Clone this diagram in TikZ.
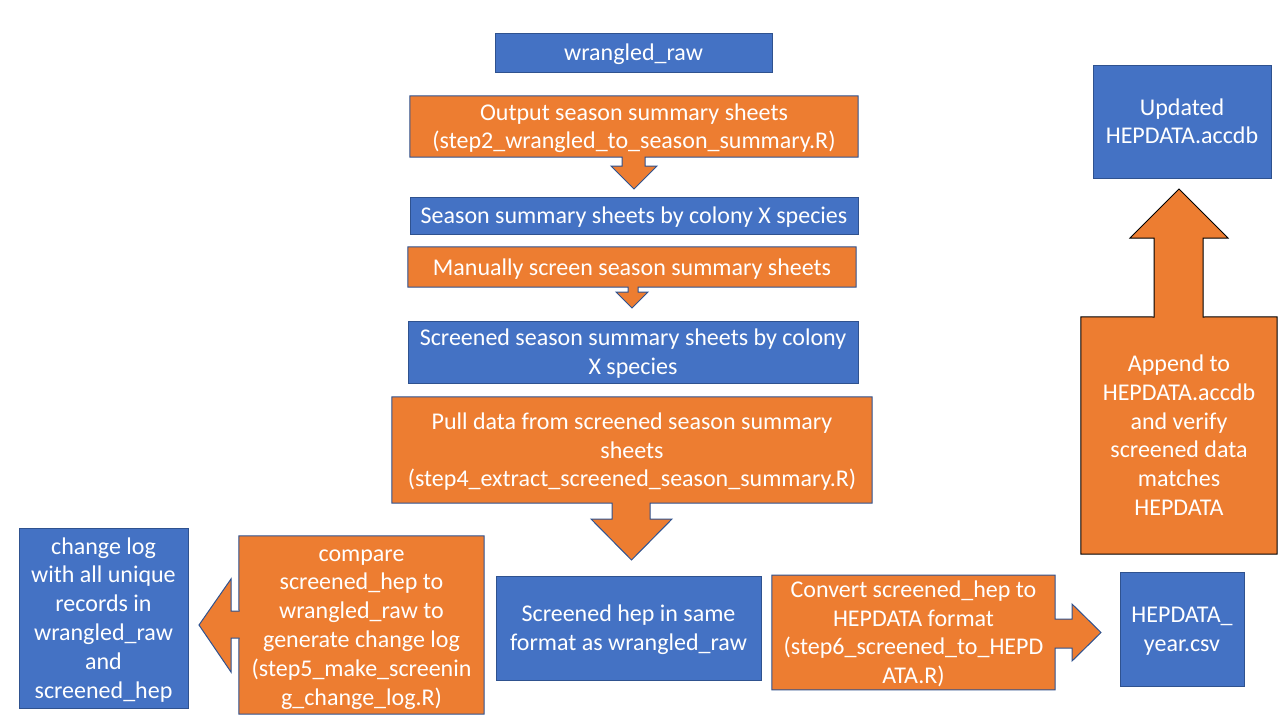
\documentclass[tikz,border=0pt]{standalone}
\usepackage{fontspec}
\setmainfont{Carlito}
\pgfdeclarelayer{background}
\pgfsetlayers{background,main}
\definecolor{pblue}{HTML}{4472C4}
\definecolor{porange}{HTML}{ED7D31}
\definecolor{pedge}{HTML}{2F528F}
\begin{document}
\begin{tikzpicture}[x=1pt,y=-1pt,
  txt/.style={text=white,align=center,inner sep=0pt,font=\fontsize{24}{28.8}\selectfont,text depth=6pt},
  l1/.style={text height=22pt},
  l2/.style={text height=50.8pt},
  l3/.style={text height=79.6pt},
  l4/.style={text height=108.4pt},
  l6/.style={text height=166pt},
  bluebox/.style={txt,fill=pblue,draw=pedge,line width=1pt},
  orangetxt/.style={txt},
  callout/.style={fill=porange,draw=pedge,line width=1pt,line join=miter},
  callblack/.style={fill=porange,draw=black,line width=1pt,line join=miter}]
\useasboundingbox (0,0) rectangle (1280,720);

% blue boxes
\node[bluebox,l1,minimum width=277pt,minimum height=39pt] (wr) at (633.5,52.5) {wrangled\_raw};
\node[bluebox,l1,minimum width=448pt,minimum height=37pt] (ss) at (634,215.5) {Season summary sheets by colony X species};
\node[bluebox,l2,minimum width=450pt,minimum height=62pt] (scr) at (633,352) {Screened season summary sheets by colony\\X species};
\node[bluebox,l6,minimum width=169pt,minimum height=180pt] (cl) at (103.5,618) {change log\\with all unique\\records in\\wrangled\_raw\\and\\screened\_hep};
\node[bluebox,l2,minimum width=265pt,minimum height=104pt] (hep) at (628.5,628) {Screened hep in same\\format as wrangled\_raw};
\node[bluebox,l2,minimum width=124pt,minimum height=114pt] (hy) at (1182,629) {HEPDATA\_\\year.csv};
\node[bluebox,l2,minimum width=178pt,minimum height=113pt] (upd) at (1182,121.5) {Updated\\HEPDATA.accdb};

% orange callout texts
\node[orangetxt,l2,minimum width=448pt,minimum height=61pt] (out) at (634,126.5) {Output season summary sheets\\(step2\_wrangled\_to\_season\_summary.R)};
\node[orangetxt,l1,minimum width=448pt,minimum height=40pt] (man) at (632,267) {Manually screen season summary sheets};
\node[orangetxt,l3,minimum width=480pt,minimum height=106pt] (pull) at (632,450) {Pull data from screened season summary\\sheets\\(step4\_extract\_screened\_season\_summary.R)};
\node[orangetxt,l6,minimum width=245pt,minimum height=178pt] (cmp) at (361.5,625) {compare\\screened\_hep to\\wrangled\_raw to\\generate change log\\(step5\_make\_screenin\\g\_change\_log.R)};
\node[orangetxt,l4,minimum width=283pt,minimum height=113pt] (cnv) at (913.5,632.5) {Convert screened\_hep to\\HEPDATA format\\(step6\_screened\_to\_HEPD\\ATA.R)};
\node[orangetxt,l6,minimum width=196pt,minimum height=237pt] (app) at (1179,435.5) {Append to\\HEPDATA.accdb\\and verify\\screened data\\matches\\HEPDATA};

\begin{pgfonlayer}{background}
% Output -> Season summary (down)
\draw[callout] (out.north west) -- (out.north east) -- (out.south east)
  -- (645,157) -- (645,166) -- (657,166) -- (634,189) -- (611,166) -- (622,166) -- (622,157)
  -- (out.south west) -- cycle;
% Manually -> Screened (down)
\draw[callout] (man.north west) -- (man.north east) -- (man.south east)
  -- (638,287) -- (638,292) -- (648,292) -- (632,308) -- (616,292) -- (628,292) -- (628,287)
  -- (man.south west) -- cycle;
% Pull -> hep (down)
\draw[callout] (pull.north west) -- (pull.north east) -- (pull.south east)
  -- (650,503) -- (650,519) -- (672,519) -- (631.5,560) -- (591,519) -- (612,519) -- (612,503)
  -- (pull.south west) -- cycle;
% compare -> change log (left)
\draw[callout] (cmp.north west) -- (cmp.north east) -- (cmp.south east) -- (cmp.south west)
  -- (239,638) -- (231,638) -- (231,672) -- (199,625) -- (231,579) -- (231,611) -- (239,611)
  -- cycle;
% convert -> HEPDATA_year (right)
\draw[callout] (cnv.north west) -- (cnv.north east)
  -- (1055,619) -- (1072,619) -- (1072,604) -- (1101,632.5) -- (1072,661) -- (1072,648) -- (1055,648)
  -- (cnv.south east) -- (cnv.south west) -- cycle;
% append -> updated (up)
\draw[callblack] (app.south west) -- (app.north west)
  -- (1154,317) -- (1154,238) -- (1130,238) -- (1179,189) -- (1228,238) -- (1203,238) -- (1203,317)
  -- (app.north east) -- (app.south east) -- cycle;
\end{pgfonlayer}
\end{tikzpicture}
\end{document}
